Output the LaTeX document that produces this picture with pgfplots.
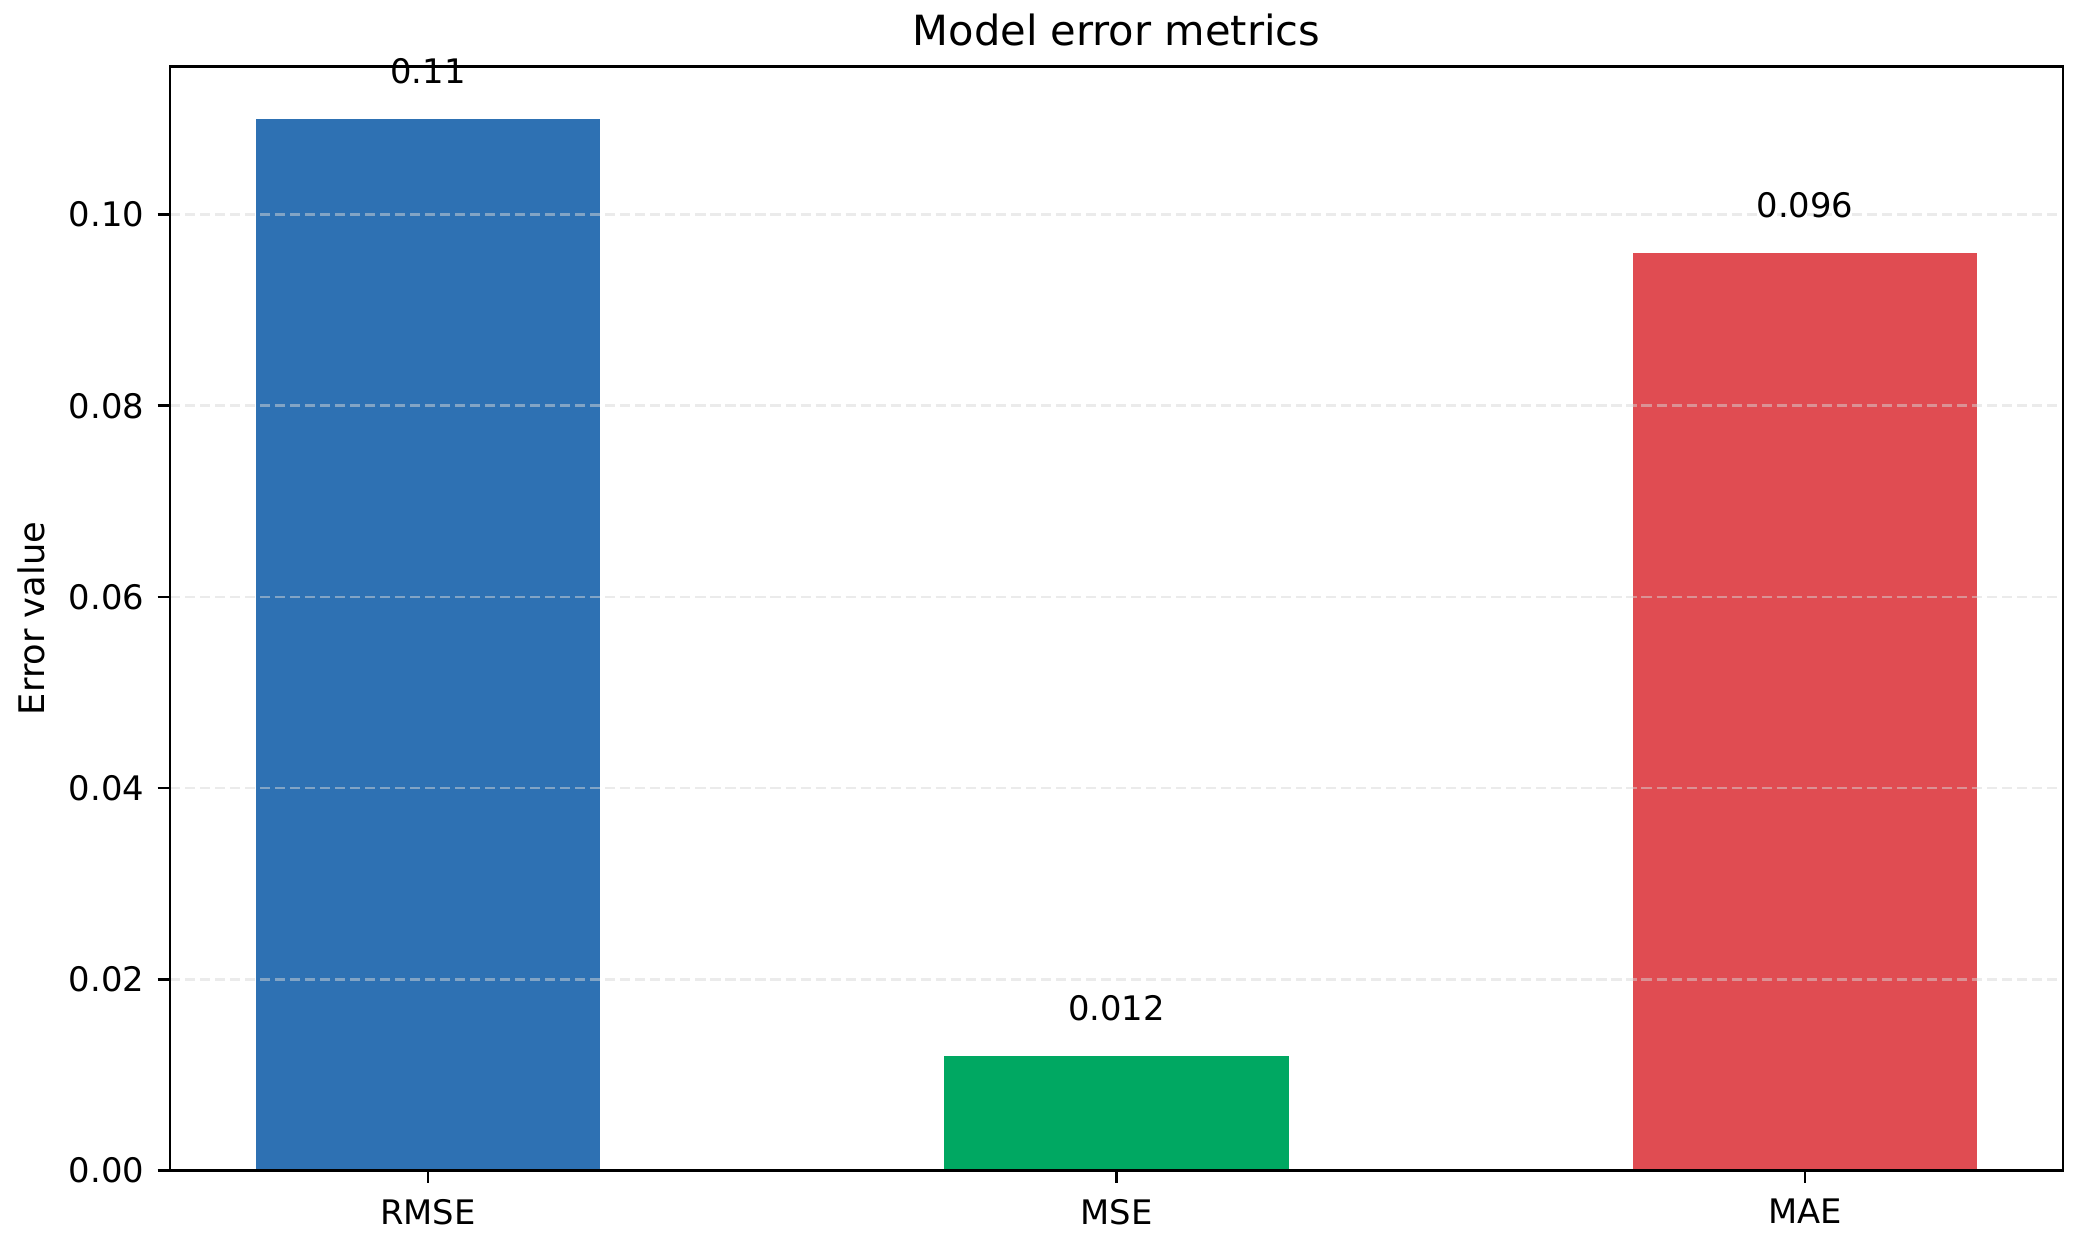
\documentclass[border=0pt]{standalone}
\usepackage{pgfplots}
\pgfplotsset{compat=1.18}
\usepackage{fontspec}
\setmainfont{DejaVu Sans}
\definecolor{cblue}{RGB}{46,113,179}
\definecolor{cgreen}{RGB}{0,168,98}
\definecolor{cred}{RGB}{224,76,82}
\definecolor{cgrid}{RGB}{215,215,215}
\newcommand{\tf}{\fontsize{11.7bp}{14bp}\selectfont}
\begin{document}
\begin{tikzpicture}
\useasboundingbox (-58.8bp,-25.3bp) rectangle (661.1bp,405.3bp);
\begin{axis}[
  at={(0,0)}, anchor=south west,
  scale only axis, width=655.6bp, height=382.3bp,
  ybar, bar width=0.5, bar shift=0pt,
  xmin=-0.375, xmax=2.375, ymin=0, ymax=0.1155,
  xtick={0,1,2}, xticklabels={RMSE,MSE,MAE},
  ytick={0,0.02,0.04,0.06,0.08,0.10},
  yticklabel style={/pgf/number format/fixed, /pgf/number format/fixed zerofill, /pgf/number format/precision=2, xshift=-1.2bp},
  /pgf/number format/assume math mode=true,
  tick label style={font=\tf, black},
  xtick pos=bottom, ytick pos=left, tick align=outside,
  major tick length=4.2bp,
  tick style={black, line width=0.9bp},
  xticklabel style={yshift=-2.2bp},
  axis line style={black, line width=0.9bp},
  ymajorgrids, xmajorgrids=false,
  major grid style={cgrid, opacity=0.5, line width=0.9bp, dash pattern=on 3.5bp off 1.7bp},
  axis on top,
  title={Model error metrics},
  title style={font=\fontsize{14.4bp}{17bp}\selectfont, yshift=-2.6bp},
  ylabel={Error value},
  ylabel style={font=\fontsize{12.2bp}{14bp}\selectfont, yshift=1.3bp},
  point meta=explicit symbolic,
  nodes near coords,
  every node near coord/.append style={font=\tf, black, anchor=south, inner sep=0pt, yshift=12bp},
]
\addplot[fill=cblue, draw=none] coordinates {(0,0.11) [0.11]};
\addplot[fill=cgreen, draw=none] coordinates {(1,0.012) [0.012]};
\addplot[fill=cred, draw=none] coordinates {(2,0.096) [0.096]};
\end{axis}
\end{tikzpicture}
\end{document}
